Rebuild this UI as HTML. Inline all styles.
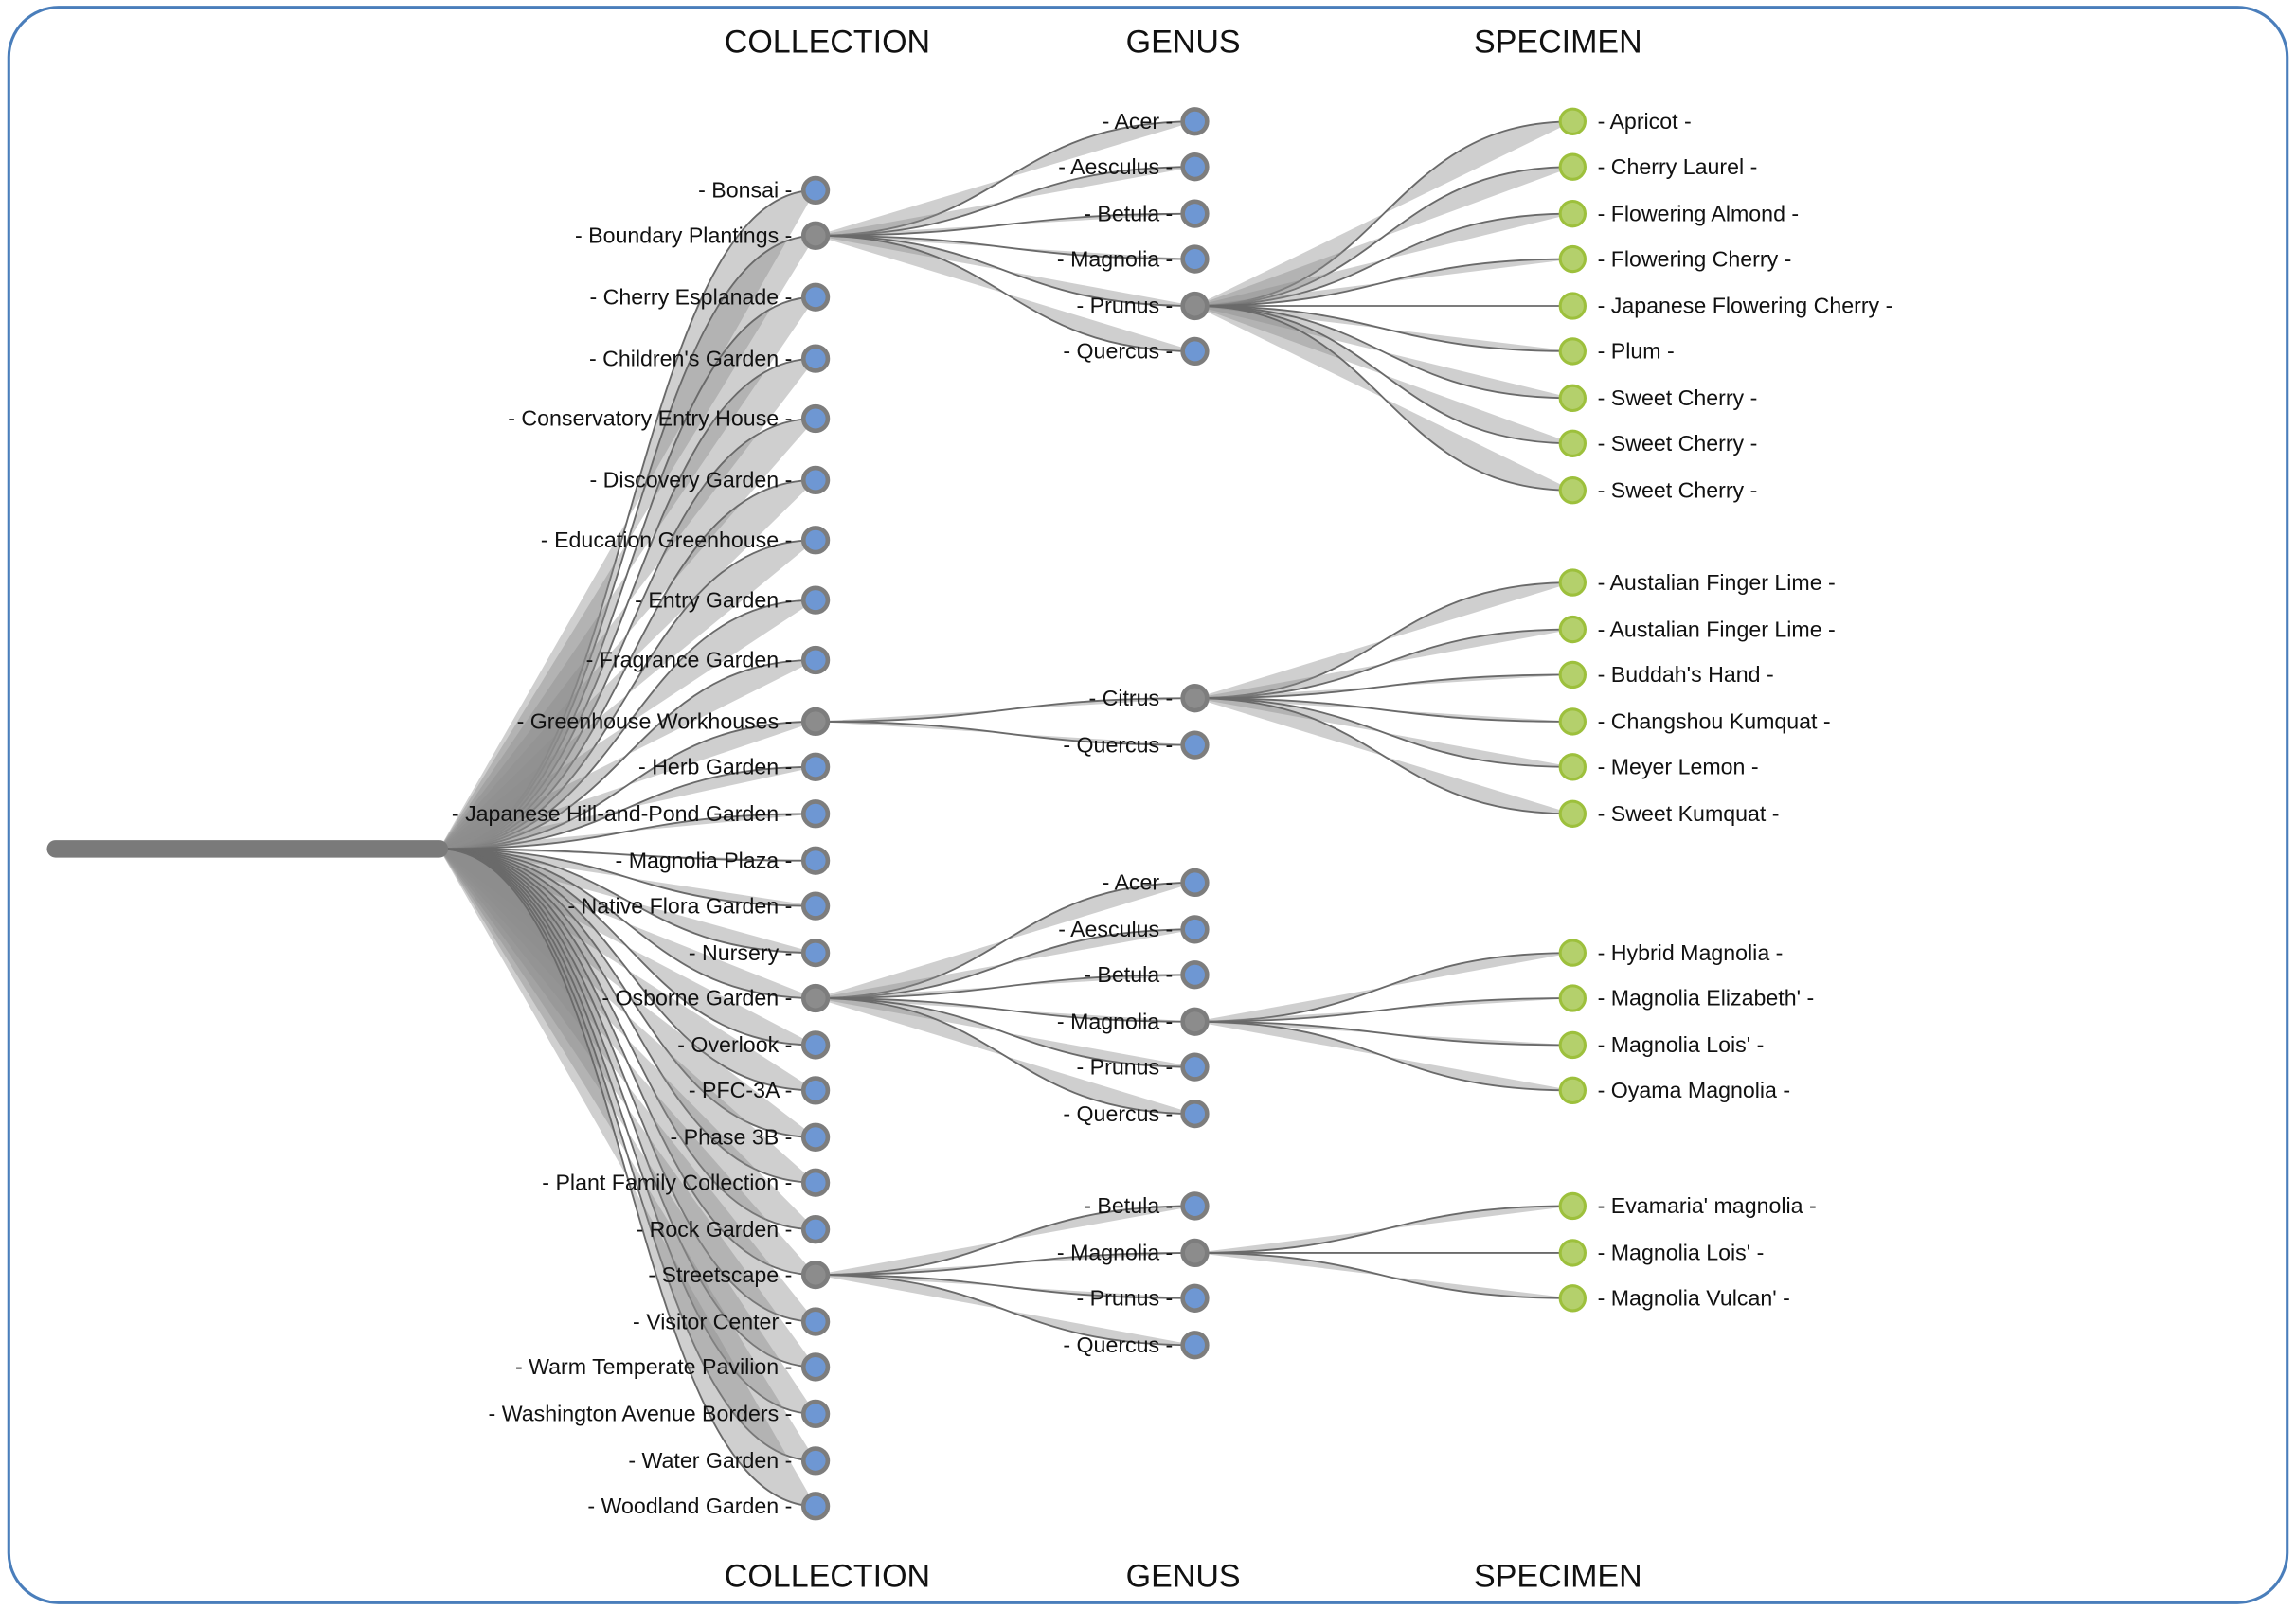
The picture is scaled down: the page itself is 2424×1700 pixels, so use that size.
<!DOCTYPE html>
<html><head><meta charset="utf-8"><style>
html,body{margin:0;padding:0;background:#fff;width:2424px;height:1700px;overflow:hidden}
svg{display:block}
text{font-family:"Liberation Sans",sans-serif;fill:#111}
.l{font-size:15px}
.h{font-size:22px}
</style></head><body>
<svg id="s" width="2424" height="1700" viewBox="0 0 1568 1100" preserveAspectRatio="none" xmlns="http://www.w3.org/2000/svg">
<rect x="6" y="5" width="1556" height="1090" rx="34" ry="34" fill="#fff" stroke="#4a7ebb" stroke-width="2"/>
<g id="links"></g>
<line x1="38" y1="580" x2="300" y2="580" stroke="#7a7a7a" stroke-width="12" stroke-linecap="round"/>
<g id="nodes"></g>
<g class="h" text-anchor="middle">
<text class="h" x="565" y="36">COLLECTION</text><text class="h" x="808" y="36">GENUS</text><text class="h" x="1064" y="36">SPECIMEN</text>
<text class="h" x="565" y="1084">COLLECTION</text><text class="h" x="808" y="1084">GENUS</text><text class="h" x="1064" y="1084">SPECIMEN</text>
</g>
<g text-anchor="end">
<text class="l" x="541" y="135">- Bonsai -</text>
<text class="l" x="541" y="166">- Boundary Plantings -</text>
<text class="l" x="541" y="208">- Cherry Esplanade -</text>
<text class="l" x="541" y="250">- Children's Garden -</text>
<text class="l" x="541" y="291">- Conservatory Entry House -</text>
<text class="l" x="541" y="333">- Discovery Garden -</text>
<text class="l" x="541" y="374">- Education Greenhouse -</text>
<text class="l" x="541" y="415">- Entry Garden -</text>
<text class="l" x="541" y="456">- Fragrance Garden -</text>
<text class="l" x="541" y="498">- Greenhouse Workhouses -</text>
<text class="l" x="541" y="529">- Herb Garden -</text>
<text class="l" x="541" y="561">- Japanese Hill-and-Pond Garden -</text>
<text class="l" x="541" y="593">- Magnolia Plaza -</text>
<text class="l" x="541" y="624">- Native Flora Garden -</text>
<text class="l" x="541" y="656">- Nursery -</text>
<text class="l" x="541" y="687">- Osborne Garden -</text>
<text class="l" x="541" y="719">- Overlook -</text>
<text class="l" x="541" y="750">- PFC-3A -</text>
<text class="l" x="541" y="782">- Phase 3B -</text>
<text class="l" x="541" y="813">- Plant Family Collection -</text>
<text class="l" x="541" y="845">- Rock Garden -</text>
<text class="l" x="541" y="876">- Streetscape -</text>
<text class="l" x="541" y="908">- Visitor Center -</text>
<text class="l" x="541" y="939">- Warm Temperate Pavilion -</text>
<text class="l" x="541" y="971">- Washington Avenue Borders -</text>
<text class="l" x="541" y="1003">- Water Garden -</text>
<text class="l" x="541" y="1034">- Woodland Garden -</text>
<text class="l" x="801" y="88">- Acer -</text>
<text class="l" x="801" y="119">- Aesculus -</text>
<text class="l" x="801" y="151">- Betula -</text>
<text class="l" x="801" y="182">- Magnolia -</text>
<text class="l" x="801" y="214">- Prunus -</text>
<text class="l" x="801" y="245">- Quercus -</text>
<text class="l" x="801" y="482">- Citrus -</text>
<text class="l" x="801" y="514">- Quercus -</text>
<text class="l" x="801" y="608">- Acer -</text>
<text class="l" x="801" y="640">- Aesculus -</text>
<text class="l" x="801" y="671">- Betula -</text>
<text class="l" x="801" y="703">- Magnolia -</text>
<text class="l" x="801" y="734">- Prunus -</text>
<text class="l" x="801" y="766">- Quercus -</text>
<text class="l" x="801" y="829">- Betula -</text>
<text class="l" x="801" y="861">- Magnolia -</text>
<text class="l" x="801" y="892">- Prunus -</text>
<text class="l" x="801" y="924">- Quercus -</text>
</g>
<g>
<text class="l" x="1091" y="88">- Apricot -</text>
<text class="l" x="1091" y="119">- Cherry Laurel -</text>
<text class="l" x="1091" y="151">- Flowering Almond -</text>
<text class="l" x="1091" y="182">- Flowering Cherry -</text>
<text class="l" x="1091" y="214">- Japanese Flowering Cherry -</text>
<text class="l" x="1091" y="245">- Plum -</text>
<text class="l" x="1091" y="277">- Sweet Cherry -</text>
<text class="l" x="1091" y="308">- Sweet Cherry -</text>
<text class="l" x="1091" y="340">- Sweet Cherry -</text>
<text class="l" x="1091" y="403">- Austalian Finger Lime -</text>
<text class="l" x="1091" y="435">- Austalian Finger Lime -</text>
<text class="l" x="1091" y="466">- Buddah's Hand -</text>
<text class="l" x="1091" y="498">- Changshou Kumquat -</text>
<text class="l" x="1091" y="529">- Meyer Lemon -</text>
<text class="l" x="1091" y="561">- Sweet Kumquat -</text>
<text class="l" x="1091" y="656">- Hybrid Magnolia -</text>
<text class="l" x="1091" y="687">- Magnolia Elizabeth' -</text>
<text class="l" x="1091" y="719">- Magnolia Lois' -</text>
<text class="l" x="1091" y="750">- Oyama Magnolia -</text>
<text class="l" x="1091" y="829">- Evamaria' magnolia -</text>
<text class="l" x="1091" y="861">- Magnolia Lois' -</text>
<text class="l" x="1091" y="892">- Magnolia Vulcan' -</text>
</g>
</svg>
<script>
var NS="http://www.w3.org/2000/svg";
var L=document.getElementById("links"),N=document.getElementById("nodes");
function link(x1,y1,x2,y2){
  var m=(x1+x2)/2;
  var d="M"+x1+","+y1+" C"+m+","+y1+" "+m+","+y2+" "+x2+","+y2;
  var f=document.createElementNS(NS,"path");
  f.setAttribute("d",d+" Z");f.setAttribute("fill","rgba(140,140,140,0.42)");f.setAttribute("stroke","none");L.appendChild(f);
  var p=document.createElementNS(NS,"path");
  p.setAttribute("d",d);p.setAttribute("fill","none");p.setAttribute("stroke","#6a6a6a");p.setAttribute("stroke-width","1.2");L.appendChild(p);
}
function node(x,y,t){
  var c=document.createElementNS(NS,"circle");
  c.setAttribute("cx",x);c.setAttribute("cy",y);
  if(t=="g"){c.setAttribute("r",8.5);c.setAttribute("fill","#b4d06c");c.setAttribute("stroke","#9dc03c");c.setAttribute("stroke-width","2");}
  else {c.setAttribute("r",8.3);c.setAttribute("fill",t=="x"?"#8c8c8c":"#6e97d3");c.setAttribute("stroke","#7d7d7d");c.setAttribute("stroke-width","3");}
  N.appendChild(c);
}
var col=[130,161,203,245,286,328,369,410,451,493,524,556,588,619,651,682,714,745,777,808,840,871,903,934,966,998,1029];
var colExp={161:1,493:1,682:1,871:1};
var gen={161:[83,114,146,177,209,240],493:[477,509],682:[603,635,666,698,729,761],871:[824,856,887,919]};
var spec={209:[83,114,146,177,209,240,272,303,335],477:[398,430,461,493,524,556],698:[651,682,714,745],856:[824,856,887]};
col.forEach(function(y){link(300,580,557,y);});
for(var k in gen){gen[k].forEach(function(y){link(557,+k,816,y);});}
for(var k in spec){spec[k].forEach(function(y){link(816,+k,1074,y);});}
col.forEach(function(y){node(557,y,colExp[y]?"x":"b");});
for(var k in gen){gen[k].forEach(function(y){node(816,y,spec[y]&&((y==209&&k==161)||(y==477)||(y==698)||(y==856))?"x":"b");});}
for(var k in spec){spec[k].forEach(function(y){node(1074,y,"g");});}
</script>
</body></html>
